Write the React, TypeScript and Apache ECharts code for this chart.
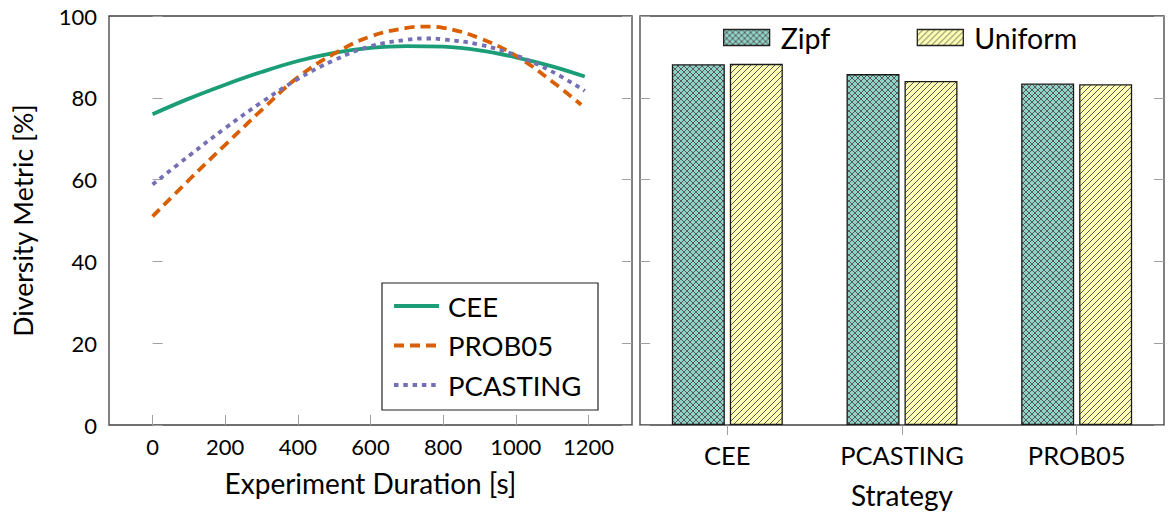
import React, { useEffect, useRef } from 'react';
import * as echarts from 'echarts';

// ---------- data ----------
const durationTicks = [0, 200, 400, 600, 800, 1000, 1200];
const ceeX = [0, 100, 200, 300, 400, 500, 600, 700, 800, 900, 1000, 1100, 1190];
const ceeY = [76.0, 79.8, 83.2, 86.3, 89.0, 91.0, 92.2, 92.65, 92.5, 91.6, 89.9, 87.7, 85.2];
const prob05X = [0, 100, 200, 300, 400, 500, 600, 700, 750, 800, 900, 1000, 1100, 1180];
const prob05Y = [51.0, 59.9, 68.5, 77.0, 85.0, 90.8, 95.0, 97.1, 97.4, 97.1, 94.6, 90.3, 84.0, 78.3];
const pcastingX = [0, 100, 200, 300, 400, 500, 600, 700, 750, 800, 900, 1000, 1100, 1190];
const pcastingY = [58.8, 65.8, 72.6, 78.9, 84.6, 89.2, 92.6, 94.2, 94.5, 94.3, 93.0, 90.4, 86.4, 81.7];

const strategies = ['CEE', 'PCASTING', 'PROB05'];
const zipfValues = [88.2, 85.8, 83.5];
const uniformValues = [88.3, 84.1, 83.3];

const FONT = 'Lato';

function makePattern(bg: string, cross: boolean): any {
  const s = 6;
  const c = document.createElement('canvas');
  c.width = s;
  c.height = s;
  const ctx = c.getContext('2d')!;
  ctx.fillStyle = bg;
  ctx.fillRect(0, 0, s, s);
  ctx.strokeStyle = '#5a5a5a';
  ctx.lineWidth = 1;
  for (const k of [-s, 0, s]) {
    ctx.beginPath();
    ctx.moveTo(k, s);
    ctx.lineTo(k + s, 0);
    ctx.stroke();
    if (cross) {
      ctx.beginPath();
      ctx.moveTo(k, 0);
      ctx.lineTo(k + s, s);
      ctx.stroke();
    }
  }
  return { image: c.toDataURL(), repeat: 'repeat', imageWidth: s, imageHeight: s };
}

const zip = (xs: number[], ys: number[]) => xs.map((x, i) => [x, ys[i]]);

export default function App() {
  const ref = useRef<HTMLDivElement>(null);
  useEffect(() => {
    const chart = echarts.init(ref.current!, null, { renderer: 'svg' });
    const zipfPattern = makePattern('#8dd3c7', true);
    const uniformPattern = makePattern('#ffffb3', false);
    const frame = '#404040';
    const tickColor = '#a0a0a0';
    const option: any = {
      animation: false,
      textStyle: { fontFamily: FONT, color: '#000' },
      grid: [
        { left: 109, right: 542, top: 16, bottom: 90, show: true, borderColor: frame, borderWidth: 1.3, backgroundColor: 'transparent' },
        { left: 640, right: 10, top: 16, bottom: 90, show: true, borderColor: frame, borderWidth: 1.3, backgroundColor: 'transparent' },
      ],
      xAxis: [
        {
          type: 'value', gridIndex: 0, min: -120, max: 1320,
          name: 'Experiment Duration [s]', nameLocation: 'middle', nameGap: 44,
          nameTextStyle: { fontFamily: FONT, fontSize: 28, color: '#000' },
          axisLine: { show: false },
          splitLine: { show: false },
          axisTick: { show: true, inside: true, length: 10, customValues: durationTicks, lineStyle: { color: tickColor, width: 1 } },
          axisLabel: { customValues: durationTicks, margin: 10, fontFamily: FONT, fontSize: 22, color: '#000', formatter: (v: number) => String(v) },
        },
        {
          type: 'category', gridIndex: 1, data: strategies,
          name: 'Strategy', nameLocation: 'middle', nameGap: 56,
          nameTextStyle: { fontFamily: FONT, fontSize: 28, color: '#000' },
          axisLine: { show: false },
          axisTick: { show: true, inside: false, length: 10, alignWithLabel: true, lineStyle: { color: tickColor, width: 1 } },
          axisLabel: { margin: 17, fontFamily: FONT, fontSize: 25.5, color: '#000' },
          splitLine: { show: false },
        },
      ],
      yAxis: [
        {
          type: 'value', gridIndex: 0, min: 0, max: 100, interval: 20,
          name: 'Diversity Metric [%]', nameLocation: 'middle', nameGap: 73,
          nameTextStyle: { fontFamily: FONT, fontSize: 26.7, color: '#000' },
          axisLine: { show: false },
          splitLine: { show: false },
          axisTick: { show: true, inside: true, length: 10, lineStyle: { color: tickColor, width: 1 } },
          axisLabel: { margin: 12, fontFamily: FONT, fontSize: 22, color: '#000' },
        },
        {
          type: 'value', gridIndex: 0, position: 'right', min: 0, max: 100, interval: 20,
          axisLine: { show: false }, splitLine: { show: false },
          axisTick: { show: true, inside: true, length: 10, lineStyle: { color: tickColor, width: 1 } },
          axisLabel: { show: false },
        },
        {
          type: 'value', gridIndex: 1, min: 0, max: 100, interval: 20,
          axisLine: { show: false }, splitLine: { show: false },
          axisTick: { show: true, inside: true, length: 10, lineStyle: { color: tickColor, width: 1 } },
          axisLabel: { show: false },
        },
        {
          type: 'value', gridIndex: 1, position: 'right', min: 0, max: 100, interval: 20,
          axisLine: { show: false }, splitLine: { show: false },
          axisTick: { show: true, inside: true, length: 10, lineStyle: { color: tickColor, width: 1 } },
          axisLabel: { show: false },
        },
      ],
      legend: [
        {
          data: ['CEE', 'PROB05', 'PCASTING'],
          orient: 'vertical', left: 382, top: 283,
          padding: [9, 0, 11, 10],
          itemWidth: 45, itemHeight: 24, itemGap: 11.5,
          borderColor: '#222', borderWidth: 1.2,
          backgroundColor: '#fff',
          itemStyle: { opacity: 0 },
          lineStyle: { width: 4, opacity: 1 },
          textStyle: { fontFamily: FONT, fontSize: 27.5, color: '#000', width: 150, lineHeight: 24, padding: [0, 0, 0, 4] },
        },
        {
          data: ['Zipf', 'Uniform'],
          orient: 'horizontal', left: 723, top: 23, padding: 0,
          itemWidth: 46, itemHeight: 16, itemGap: 0,
          icon: 'rect',
          itemStyle: { borderColor: '#222', borderWidth: 1.3 },
          textStyle: { fontFamily: FONT, fontSize: 28.5, color: '#000', width: 136, lineHeight: 28, padding: [0, 0, 0, 6] },
        },
      ],
      series: [
        {
          name: 'CEE', type: 'line', xAxisIndex: 0, yAxisIndex: 0, data: zip(ceeX, ceeY),
          smooth: 0.4, symbol: 'none', showSymbol: false,
          lineStyle: { color: '#1b9e77', width: 3.8 }, itemStyle: { color: '#1b9e77' },
        },
        {
          name: 'PROB05', type: 'line', xAxisIndex: 0, yAxisIndex: 0, data: zip(prob05X, prob05Y),
          smooth: 0.4, symbol: 'none', showSymbol: false,
          lineStyle: { color: '#d95f02', width: 3.8, type: [10, 6] }, itemStyle: { color: '#d95f02' },
        },
        {
          name: 'PCASTING', type: 'line', xAxisIndex: 0, yAxisIndex: 0, data: zip(pcastingX, pcastingY),
          smooth: 0.4, symbol: 'none', showSymbol: false,
          lineStyle: { color: '#7570b3', width: 3.8, type: [4.5, 4.8] }, itemStyle: { color: '#7570b3' },
        },
        {
          name: 'Zipf', type: 'bar', xAxisIndex: 1, yAxisIndex: 2, data: zipfValues,
          barWidth: 53, barGap: '9.4%',
          itemStyle: { color: zipfPattern, borderColor: '#1a1a1a', borderWidth: 1.3 },
        },
        {
          name: 'Uniform', type: 'bar', xAxisIndex: 1, yAxisIndex: 2, data: uniformValues,
          barWidth: 53, barGap: '9.4%',
          itemStyle: { color: uniformPattern, borderColor: '#1a1a1a', borderWidth: 1.3 },
        },
      ],
    };
    chart.setOption(option);
    return () => chart.dispose();
  }, []);
  return (
    <div
      ref={ref}
      style={{ position: 'absolute', left: 0, top: 0, width: 1174, height: 515, background: '#fff' }}
    />
  );
}
